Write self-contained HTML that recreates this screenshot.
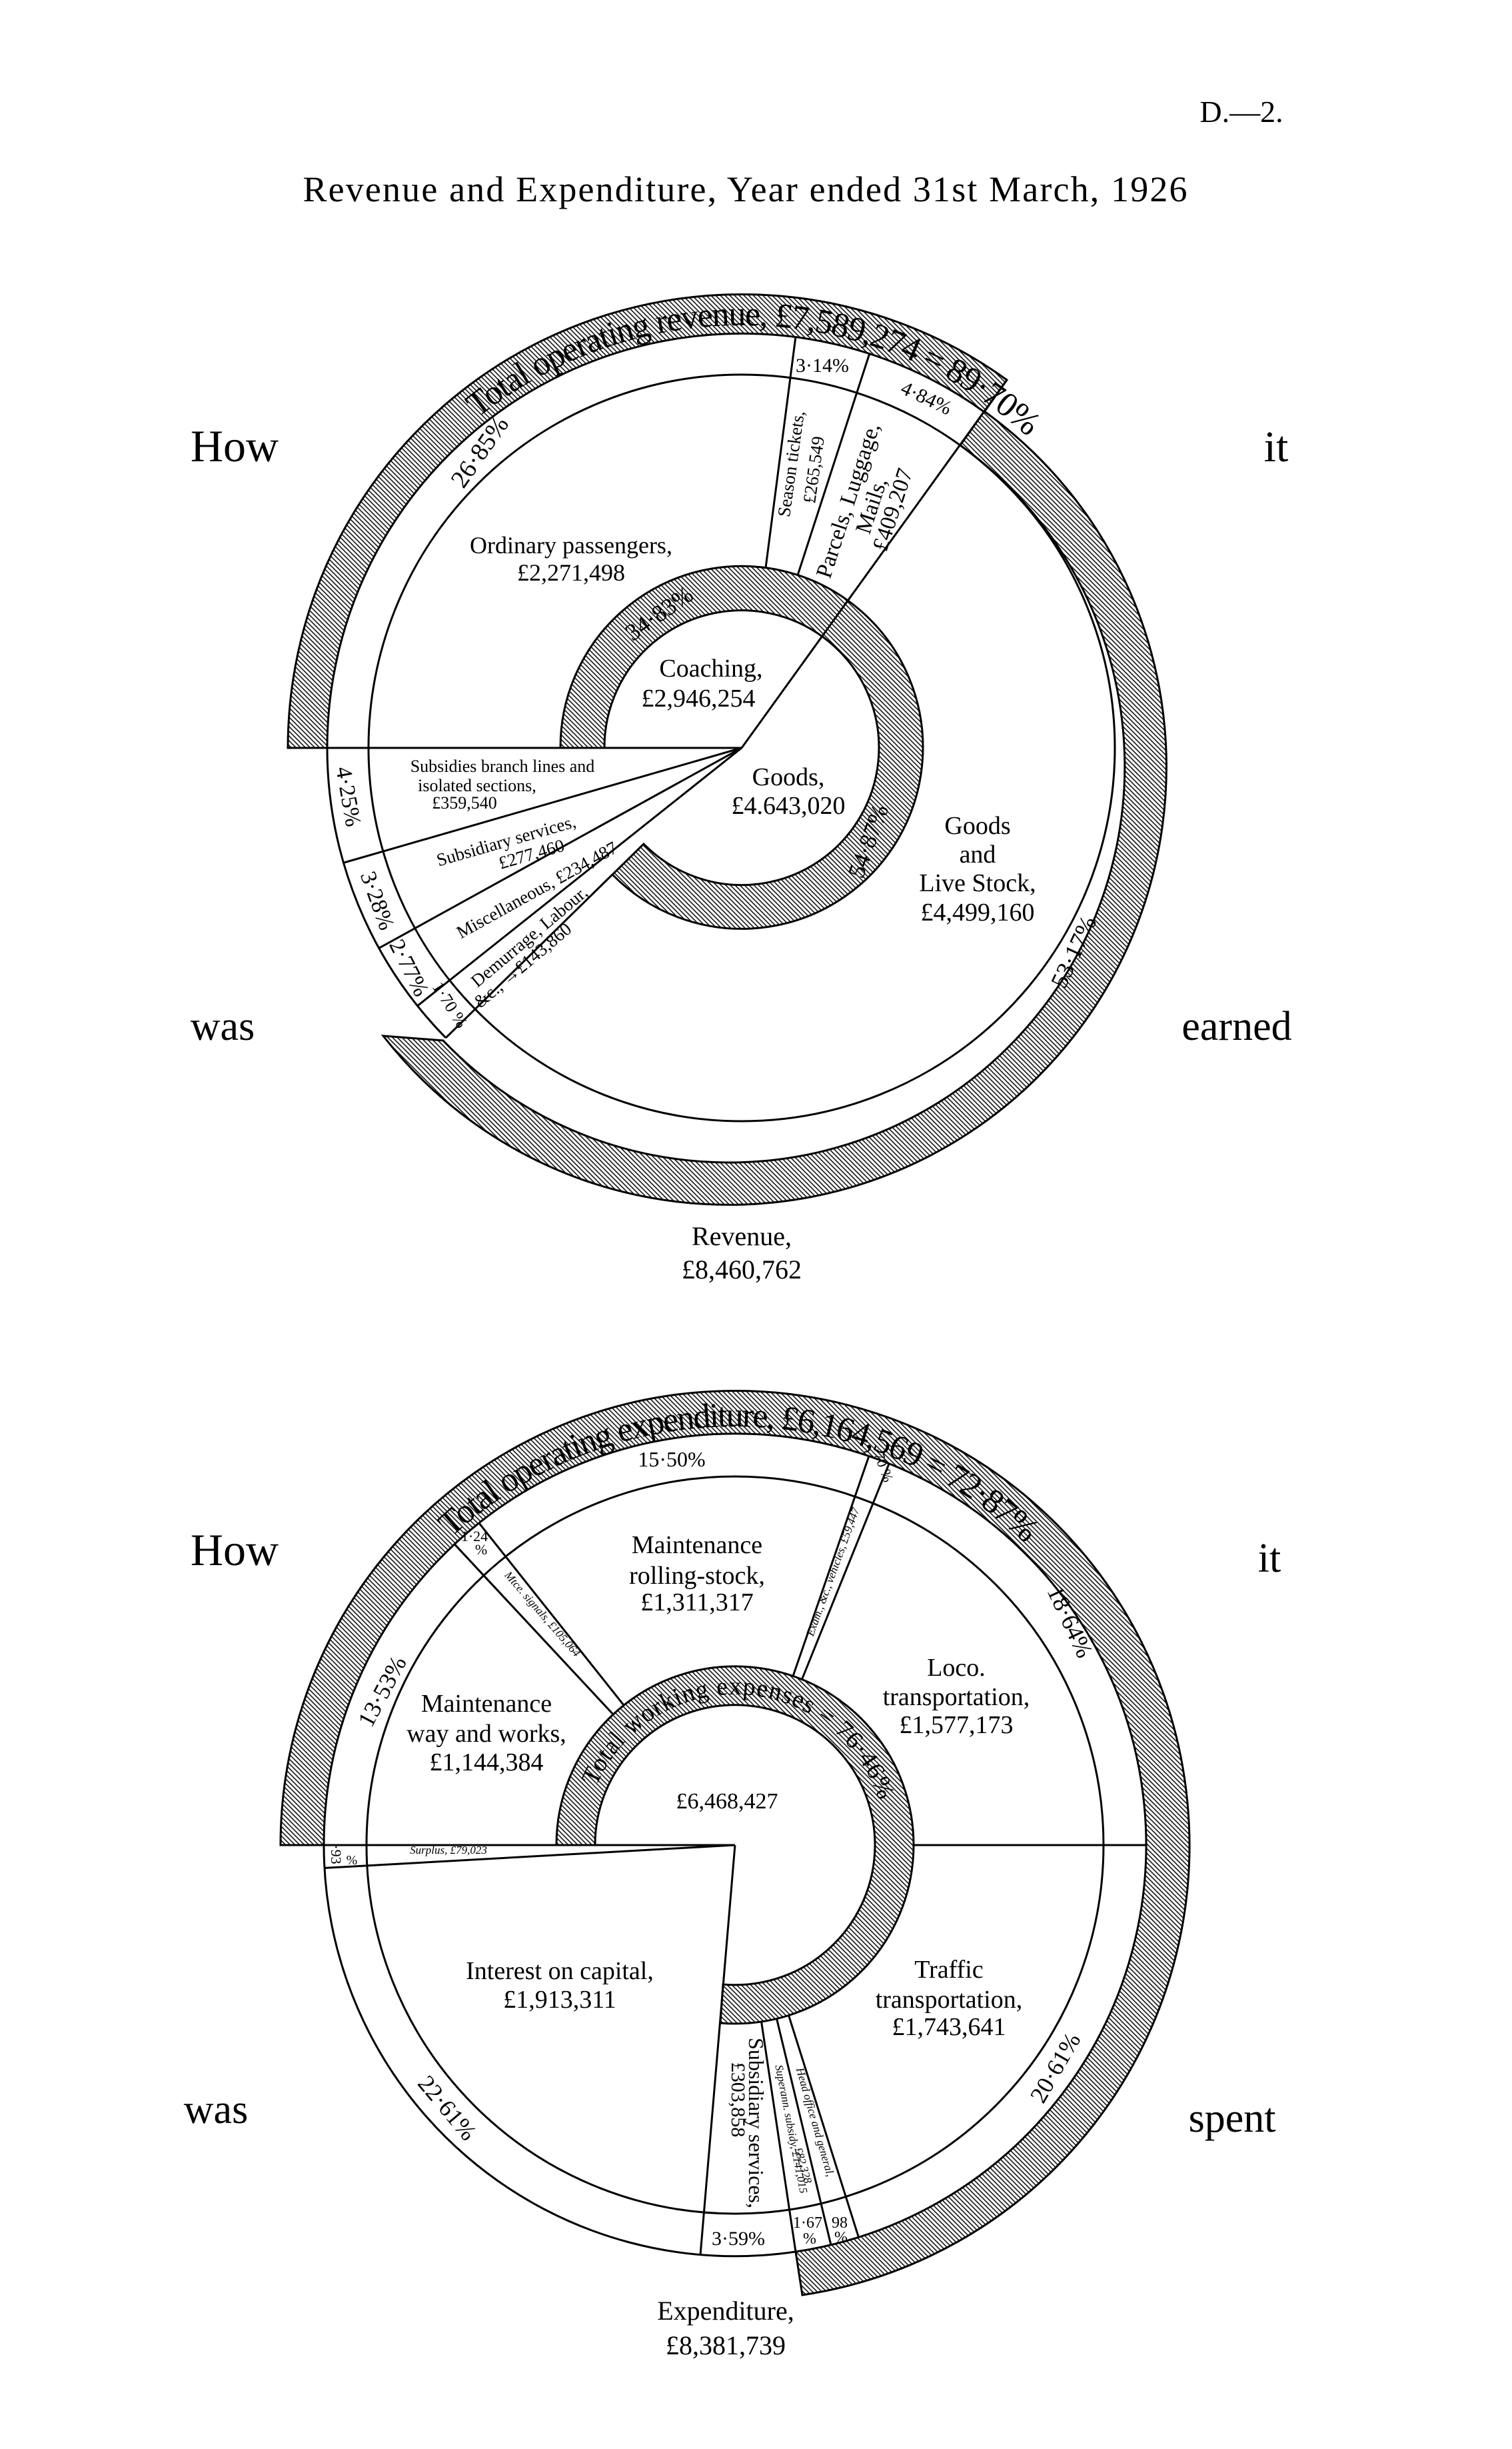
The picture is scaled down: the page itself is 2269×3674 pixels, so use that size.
<!DOCTYPE html>
<html><head><meta charset="utf-8"><style>
html,body{margin:0;padding:0;background:#fff;}
svg{display:block;}
text{font-family:"Liberation Serif",serif;fill:#000;}
</style></head><body>
<svg width="2269" height="3674" viewBox="0 0 2269 3674" xmlns="http://www.w3.org/2000/svg">
<defs>
<pattern id="h" width="5" height="5" patternUnits="userSpaceOnUse" patternTransform="rotate(-45)">
<rect width="5" height="5" fill="#fff"/><line x1="1" y1="0" x2="1" y2="5" stroke="#000" stroke-width="1.5"/></pattern>
<path id="tp1" d="M 664.7 673.7 A 634 634 0 0 1 1598.7 714.5" fill="none"/>
<path id="tp2" d="M 622 2364.3 A 628 628 0 0 1 1584 2364.3" fill="none"/>
<path id="tp3" d="M 880.4 2728.8 A 226 226 0 0 1 1329 2768" fill="none"/>
</defs>

<!-- header -->
<text x="1863" y="183" font-size="46" text-anchor="middle">D.—2.</text>
<text x="1118" y="302" font-size="54" text-anchor="middle" textLength="1327" lengthAdjust="spacing">Revenue and Expenditure, Year ended 31st March, 1926</text>

<text x="352" y="692" font-size="68" text-anchor="middle">How</text>
<text x="1915" y="692" font-size="66" text-anchor="middle">it</text>
<text x="334" y="1560" font-size="62" text-anchor="middle">was</text>
<text x="1856" y="1560" font-size="62" text-anchor="middle">earned</text>
<text x="352" y="2348" font-size="68" text-anchor="middle">How</text>
<text x="1905" y="2358" font-size="62" text-anchor="middle">it</text>
<text x="324" y="3185" font-size="62" text-anchor="middle">was</text>
<text x="1849" y="3198" font-size="62" text-anchor="middle">spent</text>

<!-- ============ TOP CHART ============ -->
<g stroke="#000" stroke-width="3" fill="none">
<path d="M 432 1122 A 681 681 0 0 1 1511 570 L 1477 618 A 622 622 0 0 0 491 1122 Z" fill="url(#h)"/>
<path d="M 1441 668 A 594 594 0 1 1 665 1561 L 575 1554 A 657 657 0 1 0 1477 617 Z" fill="url(#h)"/>
<path d="M 669 1557 A 622 622 0 0 1 491 1122"/>
<circle cx="1113" cy="1122" r="560"/>
<path d="M 841 1122 A 272 272 0 1 1 919 1312 L 966 1266 A 206 206 0 1 0 907 1122 Z" fill="url(#h)"/>
<line x1="1113" y1="1122" x2="432" y2="1122"/>
<line x1="1113" y1="1122" x2="1511" y2="570"/>
<line x1="1149" y1="852" x2="1194" y2="505"/>
<line x1="1197" y1="863" x2="1305" y2="530"/>
<line x1="1113" y1="1122" x2="515" y2="1294.5"/>
<line x1="1113" y1="1122" x2="568.4" y2="1422.6"/>
<line x1="1113" y1="1122" x2="626.2" y2="1509.2"/>
<line x1="919" y1="1312" x2="669" y2="1557"/>
</g>
<text font-size="52"><textPath href="#tp1" startOffset="70" textLength="900" lengthAdjust="spacing">Total operating revenue, £7,589,274 = 89·70%</textPath></text>

<text font-size="38" text-anchor="middle" transform="translate(730,685) rotate(-55)">26·85%</text>
<text x="857" y="830" font-size="36" text-anchor="middle">Ordinary passengers,</text>
<text x="857" y="871" font-size="36" text-anchor="middle">£2,271,498</text>
<text x="1234" y="558" font-size="30" text-anchor="middle">3·14%</text>
<text font-size="30" text-anchor="middle" transform="translate(1386,606) rotate(25)">4·84%</text>
<text font-size="27" text-anchor="middle" transform="translate(1196,697) rotate(-82)">Season tickets,</text>
<text font-size="27" text-anchor="middle" transform="translate(1230,706) rotate(-82)">£265,549</text>
<text font-size="34" text-anchor="middle" transform="translate(1283,754) rotate(-72)">Parcels, Luggage,</text>
<text font-size="34" text-anchor="middle" transform="translate(1318,762) rotate(-72)">Mails,</text>
<text font-size="34" text-anchor="middle" transform="translate(1350,768) rotate(-72)">£409,207</text>
<text font-size="36" text-anchor="middle" transform="translate(996,930) rotate(-35)">34·83%</text>
<text x="1067" y="1015" font-size="38" text-anchor="middle">Coaching,</text>
<text x="1048" y="1060" font-size="38" text-anchor="middle">£2,946,254</text>
<text x="1183" y="1178" font-size="38" text-anchor="middle">Goods,</text>
<text x="1183" y="1221" font-size="38" text-anchor="middle">£4.643,020</text>
<text font-size="36" text-anchor="middle" transform="translate(1314,1266) rotate(-70)">54·87%</text>
<text x="1467" y="1251" font-size="38" text-anchor="middle">Goods</text>
<text x="1467" y="1294" font-size="38" text-anchor="middle">and</text>
<text x="1467" y="1337" font-size="38" text-anchor="middle">Live Stock,</text>
<text x="1467" y="1381" font-size="38" text-anchor="middle">£4,499,160</text>
<text font-size="36" text-anchor="middle" transform="translate(1622,1433) rotate(-65)">53·17%</text>
<text x="754" y="1158" font-size="26" text-anchor="middle">Subsidies branch lines and</text>
<text x="716" y="1187" font-size="26" text-anchor="middle">isolated sections,</text>
<text x="697" y="1213" font-size="26" text-anchor="middle">£359,540</text>
<text font-size="34" text-anchor="middle" transform="translate(512,1197) rotate(80)">4·25%</text>
<text font-size="27" text-anchor="middle" transform="translate(762,1270) rotate(-16)">Subsidiary services,</text>
<text font-size="27" text-anchor="middle" transform="translate(800,1290) rotate(-16)">£277,460</text>
<text font-size="34" text-anchor="middle" transform="translate(556,1355) rotate(70)">3·28%</text>
<text font-size="27" text-anchor="middle" transform="translate(810,1343) rotate(-29)">Miscellaneous, £234,487</text>
<text font-size="34" text-anchor="middle" transform="translate(604,1457) rotate(63)">2·77%</text>
<text font-size="27" text-anchor="middle" transform="translate(800,1412) rotate(-40)">Demurrage, Labour,</text>
<text font-size="27" text-anchor="middle" transform="translate(790,1455) rotate(-40)">&amp;c.,   →£143,860</text>
<text font-size="26" text-anchor="middle" transform="translate(668,1512) rotate(58)">1·70 %</text>
<text x="1113" y="1868" font-size="40" text-anchor="middle">Revenue,</text>
<text x="1113" y="1918" font-size="40" text-anchor="middle">£8,460,762</text>

<!-- ============ BOTTOM CHART ============ -->
<g stroke="#000" stroke-width="3" fill="none">
<path d="M 421 2768 A 682 682 0 1 1 1204 3443 L 1194 3378 A 617 617 0 1 0 486 2768 Z" fill="url(#h)"/>
<path d="M 1194 3378 A 617 617 0 0 1 486 2768"/>
<circle cx="1103" cy="2768" r="553"/>
<path d="M 835 2768 A 268 268 0 1 1 1081 3035 L 1085 2977 A 210 210 0 1 0 893 2768 Z" fill="url(#h)"/>
<line x1="1103" y1="2768" x2="421" y2="2768"/>
<line x1="1103" y1="2768" x2="487" y2="2802.4"/>
<line x1="1103" y1="2768" x2="1051" y2="3383"/>
<line x1="1142.6" y1="3033" x2="1194" y2="3378"/>
<line x1="1165.6" y1="3028.6" x2="1247" y2="3368"/>
<line x1="1183.6" y1="3023.6" x2="1288.5" y2="3356.4"/>
<line x1="1371" y1="2768" x2="1720" y2="2768"/>
<line x1="1190" y1="2514.6" x2="1303.9" y2="2184.6"/>
<line x1="1203.4" y1="2519.5" x2="1334.1" y2="2195.9"/>
<line x1="920.2" y1="2572" x2="682.2" y2="2316.7"/>
<line x1="936.2" y1="2558.3" x2="719" y2="2285.1"/>
</g>
<text font-size="52"><textPath href="#tp2" startOffset="80" textLength="950" lengthAdjust="spacing">Total operating expenditure, £6,164,569 = 72·87%</textPath></text>
<text font-size="38"><textPath href="#tp3" startOffset="51" textLength="552" lengthAdjust="spacing">Total working expenses = 76·46%</textPath></text>

<text x="1008" y="2200" font-size="32" text-anchor="middle">15·50%</text>
<text font-size="22" text-anchor="middle" transform="translate(1318,2200) rotate(70)">·70 %</text>
<text x="712" y="2312" font-size="22" text-anchor="middle">1·24</text>
<text x="722" y="2332" font-size="22" text-anchor="middle">%</text>
<text font-size="17" font-style="italic" text-anchor="middle" transform="translate(810,2425) rotate(49)">Mtce. signals, £105,064</text>
<text font-size="17" font-style="italic" text-anchor="middle" transform="translate(1255,2360) rotate(-70)">Exam., &amp;c., vehicles, £59,447</text>
<text x="1046" y="2330" font-size="38" text-anchor="middle">Maintenance</text>
<text x="1046" y="2376" font-size="38" text-anchor="middle">rolling-stock,</text>
<text x="1046" y="2416" font-size="38" text-anchor="middle">£1,311,317</text>
<text font-size="36" text-anchor="middle" transform="translate(1595,2438) rotate(65)">18·64%</text>
<text font-size="36" text-anchor="middle" transform="translate(584,2543) rotate(-62)">13·53%</text>
<text x="730" y="2568" font-size="38" text-anchor="middle">Maintenance</text>
<text x="730" y="2613" font-size="38" text-anchor="middle">way and works,</text>
<text x="730" y="2656" font-size="38" text-anchor="middle">£1,144,384</text>
<text x="1435" y="2514" font-size="38" text-anchor="middle">Loco.</text>
<text x="1435" y="2558" font-size="38" text-anchor="middle">transportation,</text>
<text x="1435" y="2600" font-size="38" text-anchor="middle">£1,577,173</text>
<text x="1091" y="2713" font-size="34" text-anchor="middle">£6,468,427</text>
<text font-size="22" text-anchor="middle" transform="translate(497,2782) rotate(90)">·93</text>
<text x="528" y="2797" font-size="20" text-anchor="middle">%</text>
<text x="673" y="2781" font-size="17" font-style="italic" text-anchor="middle">Surplus, £79,023</text>
<text x="840" y="2969" font-size="38" text-anchor="middle">Interest on capital,</text>
<text x="840" y="3012" font-size="38" text-anchor="middle">£1,913,311</text>
<text x="1424" y="2967" font-size="38" text-anchor="middle">Traffic</text>
<text x="1424" y="3012" font-size="38" text-anchor="middle">transportation,</text>
<text x="1424" y="3053" font-size="38" text-anchor="middle">£1,743,641</text>
<text font-size="36" text-anchor="middle" transform="translate(662,3170) rotate(50)">22·61%</text>
<text font-size="36" text-anchor="middle" transform="translate(1594,3108) rotate(-60)">20·61%</text>
<text font-size="32" text-anchor="middle" transform="translate(1124,3185) rotate(90)">Subsidiary services,</text>
<text font-size="30" text-anchor="middle" transform="translate(1098,3150) rotate(90)">£303,858</text>
<text font-size="17" font-style="italic" text-anchor="middle" transform="translate(1182,3195) rotate(79)">Superann. subsidy, £141,015</text>
<text font-size="17" font-style="italic" text-anchor="middle" transform="translate(1218,3185) rotate(74)">Head office and general,</text>
<text font-size="17" font-style="italic" text-anchor="middle" transform="translate(1200,3250) rotate(74)">£82,328</text>
<text x="1108" y="3368" font-size="30" text-anchor="middle">3·59%</text>
<text x="1212" y="3342" font-size="24" text-anchor="middle">1·67</text>
<text x="1215" y="3366" font-size="24" text-anchor="middle">%</text>
<text x="1260" y="3342" font-size="24" text-anchor="middle">98</text>
<text x="1262" y="3364" font-size="24" text-anchor="middle">%</text>
<text x="1089" y="3480" font-size="40" text-anchor="middle">Expenditure,</text>
<text x="1089" y="3532" font-size="40" text-anchor="middle">£8,381,739</text>
</svg>
</body></html>
